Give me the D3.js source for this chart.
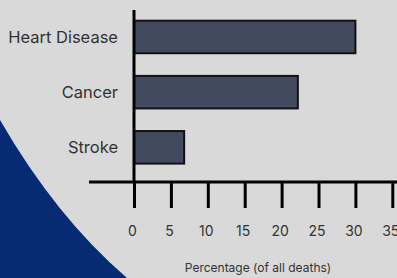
<!DOCTYPE html>
<html>
<head>
<meta charset="utf-8">
<script src="https://cdn.jsdelivr.net/npm/d3@7"></script>
<style>
  html, body { margin: 0; padding: 0; background: #d9d9d9; }
  svg { display: block; }
</style>
</head>
<body>
<svg id="chart" width="397" height="278"></svg>
<script>
const causes = ['Heart Disease', 'Cancer', 'Stroke'];
const percentages = [30, 22.2, 6.8];
const tickValues = [0, 5, 10, 15, 20, 25, 30, 35];
const axisTitle = 'Percentage (of all deaths)';

const width = 397, height = 278;
const svg = d3.select('#chart');

svg.append('rect')
    .attr('width', width)
    .attr('height', height)
    .attr('fill', '#d9d9d9');

// decorative navy corner
svg.append('path')
    .attr('d', 'M0,120 Q56,217 127,278 L0,278 Z')
    .attr('fill', '#062a74');

const x = d3.scaleLinear()
    .domain([0, 35])
    .range([134, 392.3]);

const y = d3.scaleBand()
    .domain(causes)
    .range([20.7, 163.6])
    .paddingInner(0.41)
    .paddingOuter(0);

const data = causes.map((c, i) => ({ cause: c, value: percentages[i] }));

svg.selectAll('rect.bar')
    .data(data)
    .enter().append('rect')
    .attr('class', 'bar')
    .attr('x', x(0))
    .attr('y', d => y(d.cause))
    .attr('width', d => x(d.value) - x(0))
    .attr('height', y.bandwidth())
    .attr('fill', '#424a5f')
    .attr('stroke', '#111')
    .attr('stroke-width', 2);

// category labels
svg.selectAll('text.cat')
    .data(data)
    .enter().append('text')
    .attr('class', 'cat')
    .attr('x', 118)
    .attr('y', d => y(d.cause) + y.bandwidth() / 2)
    .attr('dy', '0.35em')
    .attr('text-anchor', 'end')
    .attr('font-family', 'Inter, sans-serif')
    .attr('font-size', 16.5)
    .attr('fill', '#333')
    .text(d => d.cause);

const axisY = 182;

// x axis
const xAxis = d3.axisBottom(x)
    .tickValues(tickValues)
    .tickSize(26)
    .tickPadding(18);

const gx = svg.append('g')
    .attr('transform', `translate(0,${axisY})`)
    .call(xAxis);

gx.select('.domain').remove();
gx.selectAll('.tick line')
    .attr('stroke', '#000')
    .attr('stroke-width', 3);
gx.selectAll('.tick text')
    .attr('x', -2)
    .attr('font-family', 'Inter, sans-serif')
    .attr('font-size', 14)
    .attr('fill', '#333');

// horizontal axis line
svg.append('line')
    .attr('x1', 89).attr('x2', width)
    .attr('y1', axisY).attr('y2', axisY)
    .attr('stroke', '#000')
    .attr('stroke-width', 3);

// vertical axis line
svg.append('line')
    .attr('x1', x(0)).attr('x2', x(0))
    .attr('y1', 10).attr('y2', axisY)
    .attr('stroke', '#000')
    .attr('stroke-width', 3);

svg.append('text')
    .attr('x', 258)
    .attr('y', 272)
    .attr('text-anchor', 'middle')
    .attr('font-family', 'Inter, sans-serif')
    .attr('font-size', 12)
    .attr('fill', '#333')
    .text(axisTitle);
</script>
</body>
</html>
